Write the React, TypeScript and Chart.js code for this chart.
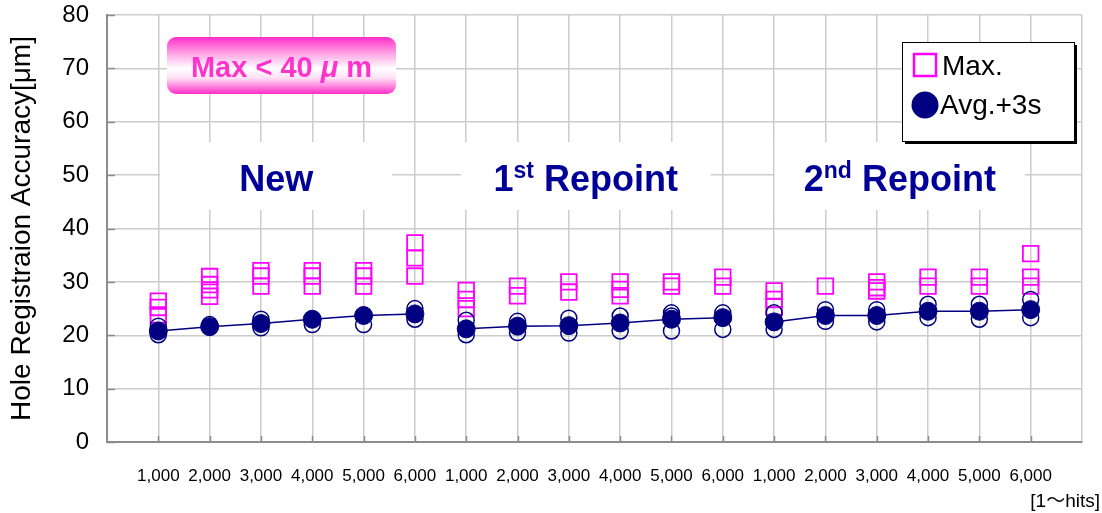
import React, { useEffect, useRef } from 'react';
import { Chart, registerables } from 'chart.js';

Chart.register(...registerables);

const categories: string[] = [
  '1,000', '2,000', '3,000', '4,000', '5,000', '6,000',
  '1,000', '2,000', '3,000', '4,000', '5,000', '6,000',
  '1,000', '2,000', '3,000', '4,000', '5,000', '6,000',
];
const groupLabels: string[][] = [['New'], ['1', 'st', ' Repoint'], ['2', 'nd', ' Repoint']];
const groupCenters: number[] = [3.3, 9.33, 15.45];
const yTickValues: number[] = [0, 10, 20, 30, 40, 50, 60, 70, 80];

// Max. samples per category
const maxValues: number[][] = [
  [26.4, 25.2, 23.8],
  [31.0, 29.5, 28.5, 27.3],
  [32.1, 31.1, 29.2],
  [32.1, 31.1, 29.2],
  [32.1, 31.1, 29.2],
  [37.3, 34.5, 31.1],
  [28.4, 26.7, 25.0],
  [29.2, 27.4],
  [30.0, 28.1],
  [30.0, 28.6, 27.4],
  [30.0, 29.2],
  [30.9, 29.2],
  [28.3, 26.7, 25.3],
  [29.2],
  [30.0, 28.9, 28.3],
  [30.9, 29.2],
  [30.9, 29.2],
  [35.3, 30.9, 29.2],
];

// Avg.+3s individual samples (hollow circles)
const sampleValues: number[][] = [
  [21.7, 20.1],
  [22.0],
  [23.0, 21.4],
  [22.0],
  [22.0],
  [25.0, 23.0],
  [22.8, 20.1],
  [22.6, 20.5],
  [23.2, 20.4],
  [23.6, 20.8],
  [24.2, 23.6, 20.8],
  [24.2, 21.1],
  [24.2, 21.1],
  [24.8, 22.6],
  [24.8, 22.5],
  [25.8, 23.3],
  [25.8, 23.0],
  [26.7, 23.3],
];

// Avg.+3s mean (filled circles on the line)
const meanValues: number[] = [
  20.8, 21.6, 22.2, 23.0, 23.7, 24.0,
  21.2, 21.7, 21.8, 22.3, 23.0, 23.3,
  22.5, 23.7, 23.7, 24.5, 24.5, 24.8,
];

const NAVY = '#000080';
const MAGENTA = '#ff00ff';
const GRID = '#cccccc';
const BORDER = '#8c8c8c';
const FONT = '"Liberation Sans", Arial, "Noto Sans CJK JP", sans-serif';

const overlayPlugin = {
  id: 'overlay',
  beforeDatasetsDraw(chart: any) {
    const { ctx, chartArea, scales } = chart;
    const x = scales.x;
    const y = scales.y;
    ctx.save();
    // inner tick marks
    ctx.strokeStyle = BORDER;
    ctx.lineWidth = 1.5;
    yTickValues.forEach((v) => {
      const py = Math.round(y.getPixelForValue(v)) + 0.5;
      ctx.beginPath();
      ctx.moveTo(chartArea.left, py);
      ctx.lineTo(chartArea.left + 8, py);
      ctx.stroke();
    });
    categories.forEach((_, i) => {
      const px = Math.round(x.getPixelForValue(i + 1)) + 0.5;
      ctx.beginPath();
      ctx.moveTo(px, chartArea.bottom);
      ctx.lineTo(px, chartArea.bottom - 6);
      ctx.stroke();
    });

    // group labels
    const big = `bold 36px ${FONT}`;
    const small = `bold 23px ${FONT}`;
    const baseY = 191;
    groupLabels.forEach((parts, gi) => {
      const cx = x.getPixelForValue(groupCenters[gi]);
      const widths = parts.map((p, pi) => {
        ctx.font = parts.length > 1 && pi === 1 ? small : big;
        return ctx.measureText(p).width;
      });
      const total = widths.reduce((a, b) => a + b, 0);
      const boxW = gi === 0 ? 232 : 250;
      ctx.fillStyle = '#ffffff';
      ctx.fillRect(cx - boxW / 2, 142, boxW, 68);
      let px = cx - total / 2;
      ctx.fillStyle = '#000099';
      ctx.textBaseline = 'alphabetic';
      ctx.textAlign = 'left';
      parts.forEach((p, pi) => {
        const sup = parts.length > 1 && pi === 1;
        ctx.font = sup ? small : big;
        ctx.fillText(p, px, sup ? baseY - 13 : baseY);
        px += widths[pi];
      });
    });

    // Max < 40 um box
    const bx = 167, by = 37, bw = 229, bh = 57, r = 9;
    const grad = ctx.createLinearGradient(0, by, 0, by + bh);
    grad.addColorStop(0, '#ff2ec8');
    grad.addColorStop(0.3, '#ffa8e6');
    grad.addColorStop(0.55, '#ffffff');
    grad.addColorStop(0.72, '#ffe0f5');
    grad.addColorStop(1, '#ff2ec8');
    ctx.fillStyle = grad;
    ctx.beginPath();
    ctx.moveTo(bx + r, by);
    ctx.arcTo(bx + bw, by, bx + bw, by + bh, r);
    ctx.arcTo(bx + bw, by + bh, bx, by + bh, r);
    ctx.arcTo(bx, by + bh, bx, by, r);
    ctx.arcTo(bx, by, bx + bw, by, r);
    ctx.closePath();
    ctx.fill();
    const t1 = 'Max < 40';
    const t2 = 'μ';
    const t3 = ' m';
    const f1 = `bold 29px ${FONT}`;
    const f2 = `italic bold 29px ${FONT}`;
    ctx.font = f1;
    const w1 = ctx.measureText(t1 + ' ').width;
    const w3 = ctx.measureText(t3).width;
    ctx.font = f2;
    const w2 = ctx.measureText(t2).width;
    let tx = bx + bw / 2 - (w1 + w2 + w3) / 2;
    ctx.fillStyle = '#ff33cc';
    ctx.textBaseline = 'alphabetic';
    ctx.font = f1;
    ctx.fillText(t1 + ' ', tx, 77);
    tx += w1;
    ctx.font = f2;
    ctx.fillText(t2, tx, 77);
    tx += w2;
    ctx.font = f1;
    ctx.fillText(t3, tx, 77);
    ctx.restore();
  },
  afterDraw(chart: any) {
    const { ctx } = chart;
    ctx.save();
    // legend box
    const lx = 902, ly = 42, lw = 172, lh = 99;
    ctx.fillStyle = '#000000';
    ctx.fillRect(lx + 3, ly + 3, lw, lh);
    ctx.fillStyle = '#ffffff';
    ctx.fillRect(lx, ly, lw, lh);
    ctx.strokeStyle = '#000000';
    ctx.lineWidth = 1;
    ctx.strokeRect(lx + 0.5, ly + 0.5, lw, lh);
    // Max. marker
    ctx.strokeStyle = MAGENTA;
    ctx.lineWidth = 2.5;
    ctx.strokeRect(914, 54, 22, 22);
    // Avg marker
    ctx.fillStyle = NAVY;
    ctx.beginPath();
    ctx.arc(925, 105, 13.5, 0, Math.PI * 2);
    ctx.fill();
    ctx.fillStyle = '#000000';
    ctx.font = `28px ${FONT}`;
    ctx.textBaseline = 'middle';
    ctx.textAlign = 'left';
    ctx.fillText('Max.', 942, 67);
    ctx.fillText('Avg.+3s', 940, 106);
    // unit label
    ctx.font = `19px ${FONT}`;
    ctx.textAlign = 'right';
    ctx.fillText('[1～hits]', 1100, 502);
    ctx.restore();
  },
};

export default function App() {
  const ref = useRef<HTMLCanvasElement | null>(null);
  useEffect(() => {
    if (!ref.current) return;
    const meanSegments = [0, 1, 2].map((g) => ({
      label: 'Avg.+3s',
      data: meanValues.slice(g * 6, g * 6 + 6).map((v, i) => ({ x: g * 6 + i + 1, y: v })),
      showLine: true,
      borderColor: NAVY,
      backgroundColor: NAVY,
      borderWidth: 1.5,
      pointRadius: 9,
      pointBorderWidth: 1,
      pointBorderColor: NAVY,
      pointBackgroundColor: NAVY,
      pointStyle: 'circle',
    }));
    const samples = {
      label: 'samples',
      data: sampleValues.flatMap((arr, i) => arr.map((v) => ({ x: i + 1, y: v }))),
      showLine: false,
      pointStyle: 'circle',
      pointRadius: 8,
      pointBorderWidth: 1.5,
      pointBorderColor: NAVY,
      pointBackgroundColor: 'rgba(255,255,255,0)',
    };
    const maxes = {
      label: 'Max.',
      data: maxValues.flatMap((arr, i) => arr.map((v) => ({ x: i + 1, y: v }))),
      showLine: false,
      pointStyle: 'rect',
      pointRadius: 11,
      pointBorderWidth: 1.8,
      pointBorderColor: MAGENTA,
      pointBackgroundColor: 'rgba(255,255,255,0)',
    };
    const chart = new Chart(ref.current, {
      type: 'scatter',
      data: { datasets: [...meanSegments, samples, maxes] as any },
      options: {
        animation: false,
        responsive: false,
        events: [],
        layout: { padding: { top: 15, right: 20, left: 0, bottom: 0 } },
        plugins: { legend: { display: false }, tooltip: { enabled: false } },
        scales: {
          x: {
            type: 'linear',
            min: 0,
            max: 19,
            afterFit: (s: any) => { s.height = 71; s.paddingLeft = 0; s.paddingRight = 0; },
            afterBuildTicks: (s: any) => {
              s.ticks = Array.from({ length: 20 }, (_, i) => ({ value: i }));
            },
            ticks: {
              autoSkip: false,
              maxRotation: 0,
              padding: 24,
              color: '#000000',
              font: { family: FONT, size: 17 },
              callback: (v: any) => categories[Number(v) - 1] ?? '',
            },
            grid: { color: GRID, lineWidth: 1.5, drawTicks: false },
            border: { color: BORDER, width: 2 },
          },
          y: {
            min: 0,
            max: 80,
            afterFit: (s: any) => { s.width = 107; s.paddingTop = 0; s.paddingBottom = 0; },
            ticks: {
              stepSize: 10,
              padding: 18,
              color: '#000000',
              font: { family: FONT, size: 24 },
            },
            grid: { color: GRID, lineWidth: 1.5, drawTicks: false },
            border: { color: BORDER, width: 2 },
            title: {
              display: true,
              text: 'Hole Registraion Accuracy[μm]',
              color: '#000000',
              font: { family: FONT, size: 28 },
              padding: { top: 5, bottom: 0 },
            },
          },
        },
      },
      plugins: [overlayPlugin],
    });
    return () => chart.destroy();
  }, []);
  return (
    <div style={{ position: 'fixed', left: 0, top: 0, width: 1102, height: 513, background: '#fff' }}>
      <canvas ref={ref} width={1102} height={513} style={{ display: 'block' }} />
    </div>
  );
}
